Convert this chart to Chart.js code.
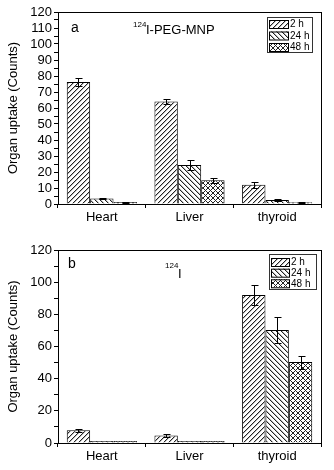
<!DOCTYPE html>
<html><head><meta charset="utf-8">
<script src="https://cdn.jsdelivr.net/npm/chart.js@4/dist/chart.umd.min.js"></script>
<style>
html,body{margin:0;padding:0;background:#fff;}
#wrap{position:relative;width:334px;height:470px;background:#fff;}
.c{position:absolute;left:0;width:334px;height:235px;}
canvas{display:block;}
</style></head><body>
<div id="wrap">
<div class="c" style="top:0"><canvas id="ca" width="334" height="235"></canvas></div>
<div class="c" style="top:235px"><canvas id="cb" width="334" height="235"></canvas></div>
</div>
<script>
// ---- data ----
const categories = ['Heart', 'Liver', 'thyroid'];
const seriesLabels = ['2 h', '24 h', '48 h'];
const yTitle = 'Organ uptake (Counts)';

// panel a: 124I-PEG-MNP
const a_2h  = [76.2, 64.0, 12.0];
const a_24h = [3.4, 24.4, 2.5];
const a_48h = [1.2, 14.8, 1.1];
const a_err2h  = [2.3, 1.5, 2.0];
const a_err24h = [0.5, 3.3, 0.4];
const a_err48h = [0.3, 1.5, 0.3];
const a_yTickLabels = [0, 10, 20, 30, 40, 50, 60, 70, 80, 90, 100, 110, 120];

// panel b: 124I
const b_2h  = [8.0, 4.7, 92.0];
const b_24h = [0.5, 0.5, 70.3];
const b_48h = [0.5, 0.5, 50.3];
const b_err2h  = [1.0, 1.0, 6.5];
const b_err24h = [0, 0, 8.0];
const b_err48h = [0, 0, 4.0];
const b_yTickLabels = [0, 20, 40, 60, 80, 100, 120];

const FONT = "'Liberation Sans', Arial, sans-serif";

function makePattern(kind) {
  const s = 5;
  const c = document.createElement('canvas');
  c.width = s; c.height = s;
  const g = c.getContext('2d');
  g.fillStyle = '#fff'; g.fillRect(0, 0, s, s);
  for (let x = 0; x < s; x++) for (let y = 0; y < s; y++) {
    const f = ((x + y) % s + s) % s, b = ((x - y) % s + s) % s;
    let col = null;
    if (kind === 'fwd') { if (f === 0) col = '#222'; else if (f === 1) col = '#bbb'; }
    if (kind === 'back') { if (b === 0) col = '#222'; else if (b === 1) col = '#bbb'; }
    if (kind === 'cross') { if (f === 0 || b === 0) col = '#222'; }
    if (col) { g.fillStyle = col; g.fillRect(x, y, 1, 1); }
  }
  return g.createPattern(c, 'repeat');
}

const errorBars = {
  id: 'errorBars',
  afterDatasetsDraw(chart) {
    const ctx = chart.ctx, y = chart.scales.y;
    chart.data.datasets.forEach((ds, i) => {
      const meta = chart.getDatasetMeta(i);
      meta.data.forEach((bar, j) => {
        const e = ds.errors[j]; if (!e) return;
        const v = ds.data[j];
        const top = Math.round(y.getPixelForValue(v + e)) + 0.5;
        const bot = Math.round(y.getPixelForValue(v - e)) + 0.5;
        const x = Math.round(bar.x) + 0.5;
        ctx.save(); ctx.strokeStyle = '#000'; ctx.lineWidth = 1;
        ctx.beginPath();
        ctx.moveTo(x, top); ctx.lineTo(x, bot);
        ctx.moveTo(x - 3, top); ctx.lineTo(x + 4, top);
        ctx.moveTo(x - 3, bot); ctx.lineTo(x + 4, bot);
        ctx.stroke(); ctx.restore();
      });
    });
  }
};

const deco = {
  id: 'deco',
  afterDraw(chart, args, o) {
    const ctx = chart.ctx;
    ctx.save();
    ctx.fillStyle = '#000';
    ctx.textBaseline = 'alphabetic';
    ctx.textAlign = 'left';
    ctx.font = '14px ' + FONT;
    ctx.fillText(o.letter, o.letterX, o.letterY);
    ctx.font = '8px ' + FONT;
    ctx.fillText(o.sup, o.supX, o.supY);
    ctx.font = '13px ' + FONT;
    ctx.fillText(o.main, o.mainX, o.mainY);
    // legend
    const L = o.legend;
    ctx.strokeStyle = '#333'; ctx.lineWidth = 1;
    ctx.fillStyle = '#fff';
    ctx.fillRect(L.x, L.y, L.w, L.h);
    ctx.strokeRect(L.x + 0.5, L.y + 0.5, L.w, L.h);
    chart.data.datasets.forEach((ds, i) => {
      const cy = L.rows[i];
      ctx.fillStyle = ds.backgroundColor;
      ctx.fillRect(L.sx, cy - 4, L.sw, 8);
      ctx.strokeStyle = '#000';
      ctx.strokeRect(L.sx + 0.5, cy - 4 + 0.5, L.sw, 8);
      ctx.fillStyle = '#000';
      ctx.font = '10px ' + FONT;
      ctx.textBaseline = 'middle';
      ctx.fillText(ds.label, L.tx, cy + 0.5);
    });
    ctx.restore();
  }
};

function build(id, vals, errs, labelsY, step, dims, decoOpts) {
  const pats = [makePattern('fwd'), makePattern('back'), makePattern('cross')];
  return new Chart(document.getElementById(id), {
    type: 'bar',
    data: {
      labels: categories,
      datasets: vals.map((v, i) => ({
        label: seriesLabels[i], data: v, errors: errs[i],
        backgroundColor: pats[i], borderColor: '#000', borderWidth: 1,
        categoryPercentage: 0.8, barPercentage: 1.0, minBarLength: dims.minBar
      }))
    },
    options: {
      responsive: false, animation: false, devicePixelRatio: 1,
      layout: { padding: 0 },
      plugins: { legend: { display: false }, tooltip: { enabled: false }, deco: decoOpts },
      scales: {
        x: {
          position: 'bottom', offset: true,
          grid: { drawOnChartArea: false, offset: true, tickLength: 4, color: '#000' },
          border: { color: '#000', width: 1 },
          ticks: { color: '#000', font: { family: FONT, size: 13 }, padding: 2 },
          afterFit: s => { s.height = dims.bottom; }
        },
        xTop: {
          position: 'top', type: 'category', offset: true,
          grid: { drawOnChartArea: false, offset: true, drawTicks: false },
          border: { color: '#000', width: 1 },
          ticks: { display: false },
          afterFit: s => { s.height = dims.top; }
        },
        y: {
          min: 0, max: 120,
          grid: { drawOnChartArea: false, tickLength: 4, color: '#000' },
          border: { color: '#000', width: 1 },
          ticks: {
            stepSize: step, autoSkip: false, color: '#000', font: { family: FONT, size: 13 }, padding: 2,
            callback: v => labelsY.includes(v) ? String(v) : ''
          },
          title: { display: true, text: yTitle, color: '#000', font: { family: FONT, size: 13 }, padding: { top: 6, bottom: 0 } },
          afterFit: s => { s.width = 58; }
        },
        yRight: {
          position: 'right', min: 0, max: 120,
          grid: { drawOnChartArea: false, drawTicks: false },
          border: { color: '#000', width: 1 },
          ticks: { display: false },
          afterFit: s => { s.width = 13; }
        }
      }
    },
    plugins: [errorBars, deco]
  });
}

build('ca', [a_2h, a_24h, a_48h], [a_err2h, a_err24h, a_err48h], a_yTickLabels, 5,
  { top: 12, bottom: 31, minBar: 0 },
  { letter: 'a', letterX: 71, letterY: 32, sup: '124', supX: 133, supY: 27, main: 'I-PEG-MNP', mainX: 146, mainY: 34,
    legend: { x: 267, y: 17, w: 45, h: 35, sx: 269, sw: 19, tx: 290, rows: [24, 35.5, 47] } });

build('cb', [b_2h, b_24h, b_48h], [b_err2h, b_err24h, b_err48h], b_yTickLabels, 10,
  { top: 15, bottom: 27, minBar: 2 },
  { letter: 'b', letterX: 68, letterY: 33, sup: '124', supX: 165, supY: 33, main: 'I', mainX: 178, mainY: 43,
    legend: { x: 269, y: 19, w: 47, h: 35, sx: 271, sw: 18, tx: 291, rows: [27, 37.7, 48.3] } });
</script>
</body></html>
